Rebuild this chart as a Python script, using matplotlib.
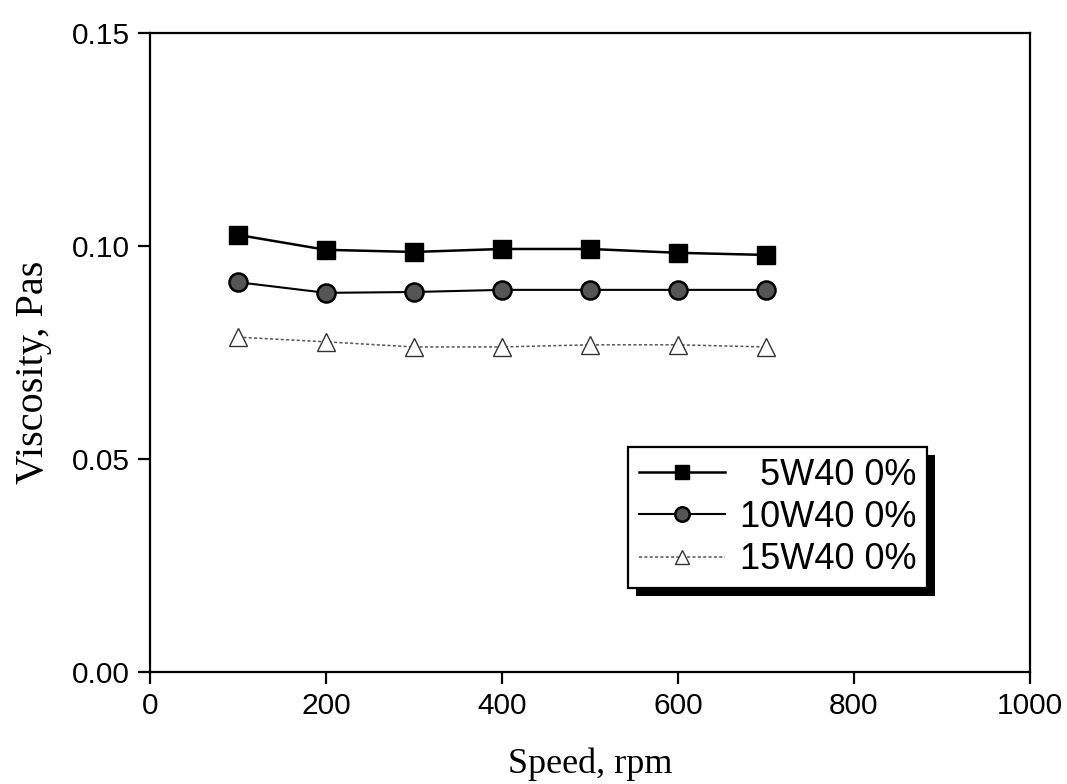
import matplotlib
matplotlib.use("Agg")
import matplotlib.pyplot as plt
from matplotlib.patches import Rectangle

speed = [100, 200, 300, 400, 500, 600, 700]
visc_5w40 = [0.1026, 0.0991, 0.0986, 0.0993, 0.0993, 0.0984, 0.0979]
visc_10w40 = [0.0915, 0.0890, 0.0892, 0.0897, 0.0897, 0.0897, 0.0897]
visc_15w40 = [0.0786, 0.0775, 0.0763, 0.0763, 0.0768, 0.0768, 0.0763]
labels = ["  5W40 0%", "10W40 0%", "15W40 0%"]
xticks = [0, 200, 400, 600, 800, 1000]
yticks = [0.00, 0.05, 0.10, 0.15]

sans = ["Liberation Sans", "DejaVu Sans"]
serif = ["Liberation Serif", "DejaVu Serif"]

fig = plt.figure(figsize=(10.67, 7.84), dpi=100)
ax = fig.add_axes([0.1406, 0.1429, 0.8247, 0.8150])

ax.plot(speed, visc_5w40, color="black", lw=1.8, marker="s", ms=13,
        mfc="black", mec="black", label=labels[0])
ax.plot(speed, visc_10w40, color="black", lw=1.5, marker="o", ms=13,
        mfc="#555555", mec="black", mew=1.8, label=labels[1])
ax.plot(speed, visc_15w40, color="#555555", lw=1.1, ls=(0, (2, 1.5)),
        marker="^", ms=13, mfc="white", mec="#333333", mew=1.0,
        label=labels[2])

ax.set_xlim(0, 1000)
ax.set_ylim(0, 0.15)
ax.set_xticks(xticks)
ax.set_yticks(yticks)
ax.set_xticklabels([str(v) for v in xticks], family=sans, fontsize=21.5)
ax.set_yticklabels([f"{v:.2f}" for v in yticks], family=sans, fontsize=21.5)
ax.tick_params(direction="out", length=8.5, width=1.6, top=False, right=False)
ax.tick_params(axis="x", pad=6)
ax.tick_params(axis="y", pad=6)
for s in ax.spines.values():
    s.set_linewidth(1.6)

ax.set_xlabel("Speed, rpm", family=serif, fontsize=26, labelpad=20)
ax.set_ylabel("Viscosity, Pas", family=serif, fontsize=29, labelpad=14)
ax.yaxis.label.set_y(0.469)

leg = ax.legend(loc="upper left", bbox_to_anchor=(0.543, 0.352),
                prop={"family": sans, "size": 26}, fancybox=False,
                framealpha=1, edgecolor="black", numpoints=1,
                markerscale=0.8,
                handlelength=2.4, handletextpad=0.4, borderpad=0.3,
                labelspacing=0.2, borderaxespad=0)
leg.get_frame().set_linewidth(1.6)
leg.set_zorder(6)

fig.canvas.draw()
bb = leg.get_window_extent().transformed(ax.transAxes.inverted())
dx = 8 / (ax.get_window_extent().width)
dy = 8 / (ax.get_window_extent().height)
shadow = Rectangle((bb.x0 + dx, bb.y0 - dy), bb.width, bb.height,
                   transform=ax.transAxes, facecolor="black",
                   edgecolor="none", zorder=5.5, clip_on=False)
ax.add_patch(shadow)

fig.savefig("out.png", dpi=100)
